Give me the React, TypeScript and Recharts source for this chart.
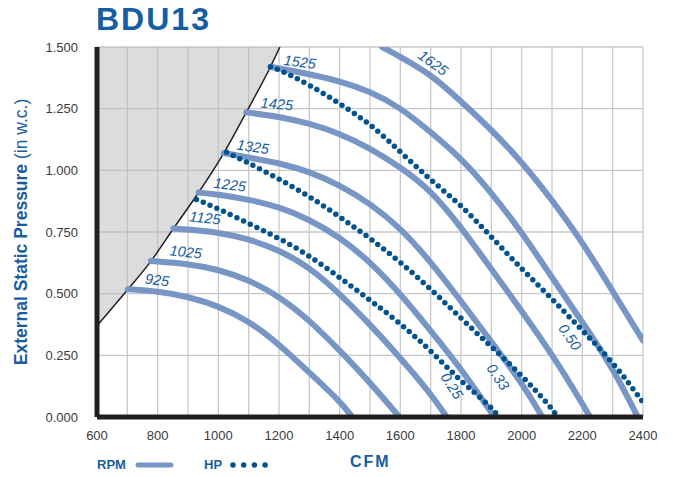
import React from 'react';
import {
  ComposedChart,
  Line,
  Area,
  XAxis,
  YAxis,
  CartesianGrid,
  ReferenceDot,
} from 'recharts';

// fan curves: [cfm, external static pressure]
const rpm925: [number, number][] = [
  [702, 0.518], [800, 0.51], [900, 0.488], [1000, 0.45], [1100, 0.39],
  [1200, 0.295], [1300, 0.18], [1400, 0.065], [1442, 0],
];
const rpm1025: [number, number][] = [
  [778, 0.632], [900, 0.622], [1000, 0.598], [1100, 0.556], [1200, 0.49],
  [1300, 0.393], [1400, 0.27], [1500, 0.14], [1597, 0],
];
const rpm1125: [number, number][] = [
  [852, 0.764], [900, 0.76], [1000, 0.748], [1100, 0.722], [1200, 0.677],
  [1300, 0.608], [1400, 0.5], [1500, 0.375], [1600, 0.24], [1700, 0.095], [1753, 0],
];
const rpm1225: [number, number][] = [
  [935, 0.91], [1000, 0.902], [1100, 0.882], [1200, 0.852], [1300, 0.801],
  [1400, 0.729], [1500, 0.63], [1600, 0.5], [1700, 0.35], [1800, 0.197], [1910, 0],
];
const rpm1325: [number, number][] = [
  [1018, 1.07], [1100, 1.052], [1200, 1.03], [1300, 0.995], [1400, 0.94],
  [1500, 0.866], [1600, 0.767], [1700, 0.63], [1800, 0.47], [1900, 0.305],
  [2000, 0.14], [2068, 0],
];
const rpm1425: [number, number][] = [
  [1092, 1.235], [1200, 1.218], [1300, 1.19], [1400, 1.15], [1500, 1.09],
  [1600, 1.013], [1700, 0.92], [1800, 0.77], [1900, 0.6], [2000, 0.43],
  [2100, 0.255], [2200, 0.055], [2225, 0],
];
const rpm1525: [number, number][] = [
  [1172, 1.42], [1300, 1.39], [1400, 1.362], [1500, 1.32], [1600, 1.255],
  [1700, 1.155], [1800, 1.05], [1900, 0.91], [2000, 0.75], [2100, 0.565],
  [2200, 0.385], [2300, 0.2], [2383, 0],
];
const rpm1625: [number, number][] = [
  [1540, 1.5], [1600, 1.46], [1700, 1.39], [1800, 1.28], [1900, 1.165],
  [2000, 1.035], [2100, 0.88], [2200, 0.71], [2300, 0.51], [2400, 0.31],
];

// brake horsepower lines
const hp025: [number, number][] = [
  [928, 0.882], [1000, 0.845], [1100, 0.785], [1200, 0.725], [1300, 0.655],
  [1400, 0.565], [1500, 0.474], [1600, 0.38], [1700, 0.27], [1800, 0.143],
  [1900, 0.042], [1925, 0],
];
const hp033: [number, number][] = [
  [1027, 1.073], [1100, 1.03], [1200, 0.965], [1300, 0.895], [1400, 0.812],
  [1500, 0.725], [1600, 0.628], [1700, 0.52], [1800, 0.4], [1900, 0.285],
  [2000, 0.17], [2100, 0.035], [2118, 0],
];
const hp050: [number, number][] = [
  [1172, 1.42], [1200, 1.408], [1300, 1.348], [1400, 1.27], [1500, 1.19],
  [1600, 1.075], [1700, 0.96], [1800, 0.86], [1900, 0.73], [2000, 0.6],
  [2100, 0.48], [2200, 0.35], [2300, 0.225], [2400, 0.06],
];

// limit curve (shaded area to the left of it)
const limitCurve: [number, number][] = [
  [600, 0.37], [702, 0.518], [778, 0.632], [852, 0.764], [935, 0.91],
  [1018, 1.07], [1092, 1.235], [1172, 1.42], [1203, 1.5],
];

const xTicks = [600, 700, 800, 900, 1000, 1100, 1200, 1300, 1400, 1500, 1600, 1700, 1800, 1900, 2000, 2100, 2200, 2300, 2400];
const yTicks = [0, 0.25, 0.5, 0.75, 1, 1.25, 1.5];

const rpmSeries = [
  { name: '925', pts: rpm925 },
  { name: '1025', pts: rpm1025 },
  { name: '1125', pts: rpm1125 },
  { name: '1225', pts: rpm1225 },
  { name: '1325', pts: rpm1325 },
  { name: '1425', pts: rpm1425 },
  { name: '1525', pts: rpm1525 },
  { name: '1625', pts: rpm1625 },
];
const hpSeries = [
  { name: '0.25', pts: hp025 },
  { name: '0.33', pts: hp033 },
  { name: '0.50', pts: hp050 },
];

const curveLabels = [
  { text: '925', x: 798, y: 0.555, angle: 7 },
  { text: '1025', x: 893, y: 0.669, angle: 6 },
  { text: '1125', x: 956, y: 0.807, angle: 6 },
  { text: '1225', x: 1038, y: 0.941, angle: 7 },
  { text: '1325', x: 1114, y: 1.095, angle: 8 },
  { text: '1425', x: 1193, y: 1.269, angle: 5 },
  { text: '1525', x: 1269, y: 1.439, angle: 7 },
  { text: '1625', x: 1708, y: 1.435, angle: 36 },
  { text: '0.25', x: 1770, y: 0.126, angle: 57 },
  { text: '0.33', x: 1922, y: 0.162, angle: 56 },
  { text: '0.50', x: 2159, y: 0.324, angle: 55 },
];

const RPM_COLOR = '#7796c5';
const HP_COLOR = '#02528f';
const BLUE = '#175da1';
const FONT = '"Liberation Sans", Arial, sans-serif';

const toPts = (pairs: [number, number][]) => pairs.map(([x, y]) => ({ x, y }));
const limitArea = limitCurve.map(([x, y]) => ({ x, range: [y, 1.5] }));

function rotatedLabel(text: string, angle: number) {
  return (props: any) => {
    const vb = props.viewBox || {};
    const cx = vb.x + (vb.width || 0) / 2;
    const cy = vb.y + (vb.height || 0) / 2;
    return (
      <text
        x={cx}
        y={cy}
        transform={`rotate(${angle} ${cx} ${cy})`}
        textAnchor="middle"
        dominantBaseline="central"
        fill={BLUE}
        fontSize={14.5}
        fontStyle="italic"
        fontFamily={FONT}
      >
        {text}
      </text>
    );
  };
}

export default function App() {
  return (
    <div style={{ position: 'absolute', left: 0, top: 0, width: 673, height: 477, background: '#fff', fontFamily: FONT }}>
      <div
        style={{
          position: 'absolute', left: 96, top: 1, fontSize: 32, fontWeight: 900,
          color: BLUE, letterSpacing: 2,
        }}
      >
        BDU13
      </div>
      <div
        style={{
          position: 'absolute', left: 21, top: 232, transform: 'translate(-50%, -50%) rotate(-90deg)',
          whiteSpace: 'nowrap', color: BLUE, fontSize: 17.5,
        }}
      >
        <b>External Static Pressure</b> (in w.c.)
      </div>

      <ComposedChart width={673} height={477} margin={{ top: 47, right: 30, bottom: 30, left: 0 }}>
        <CartesianGrid stroke="#c9c9c9" strokeWidth={1.3} />
        <XAxis
          type="number"
          dataKey="x"
          domain={[600, 2400]}
          ticks={xTicks}
          interval={0}
          tickFormatter={(v: number) => (v % 200 === 0 ? String(v) : '')}
          tickLine={false}
          tickMargin={8}
          height={30}
          axisLine={{ stroke: '#231f20', strokeWidth: 5 }}
          tick={{ fill: '#3a3a3a', fontSize: 13, fontFamily: FONT }}
          allowDataOverflow
        />
        <YAxis
          type="number"
          domain={[0, 1.5]}
          ticks={yTicks}
          interval={0}
          width={97}
          tickFormatter={(v: number) => v.toFixed(3)}
          tickLine={false}
          tickMargin={13}
          axisLine={{ stroke: '#231f20', strokeWidth: 5 }}
          tick={{ fill: '#3a3a3a', fontSize: 13, fontFamily: FONT }}
          allowDataOverflow
        />
        <Area
          data={limitArea}
          dataKey="range"
          type="monotone"
          stroke="none"
          fill="#b9b9bb"
          fillOpacity={0.5}
          isAnimationActive={false}
        />
        <Line
          data={toPts(limitCurve)}
          dataKey="y"
          type="monotone"
          stroke="#231f20"
          strokeWidth={1.5}
          dot={false}
          isAnimationActive={false}
        />
        {rpmSeries.map((s) => (
          <Line
            key={s.name}
            data={toPts(s.pts)}
            dataKey="y"
            type="basis"
            stroke={RPM_COLOR}
            strokeWidth={6}
            strokeLinecap="round"
            dot={false}
            isAnimationActive={false}
          />
        ))}
        {hpSeries.map((s) => (
          <Line
            key={s.name}
            data={toPts(s.pts)}
            dataKey="y"
            type="basis"
            stroke={HP_COLOR}
            strokeWidth={5.5}
            strokeDasharray="0 7.4"
            strokeLinecap="round"
            dot={false}
            isAnimationActive={false}
          />
        ))}
        {curveLabels.map((l) => (
          <ReferenceDot
            key={l.text}
            x={l.x}
            y={l.y}
            r={1}
            fill="none"
            stroke="none"
            ifOverflow="visible"
            label={{ content: rotatedLabel(l.text, l.angle) }}
          />
        ))}
      </ComposedChart>

      {/* legend */}
      <div style={{ position: 'absolute', left: 97, top: 457, fontSize: 13, fontWeight: 700, color: BLUE }}>RPM</div>
      <svg style={{ position: 'absolute', left: 130, top: 458 }} width={150} height={14}>
        <line x1={8} y1={7} x2={41} y2={7} stroke={RPM_COLOR} strokeWidth={5} strokeLinecap="round" />
        <line x1={103} y1={7} x2={136} y2={7} stroke={HP_COLOR} strokeWidth={5.5} strokeDasharray="0 10.7" strokeLinecap="round" />
      </svg>
      <div style={{ position: 'absolute', left: 204, top: 457, fontSize: 13, fontWeight: 700, color: BLUE }}>HP</div>
      <div style={{ position: 'absolute', left: 350, top: 453, fontSize: 16, fontWeight: 900, color: BLUE, letterSpacing: 2 }}>CFM</div>
    </div>
  );
}
